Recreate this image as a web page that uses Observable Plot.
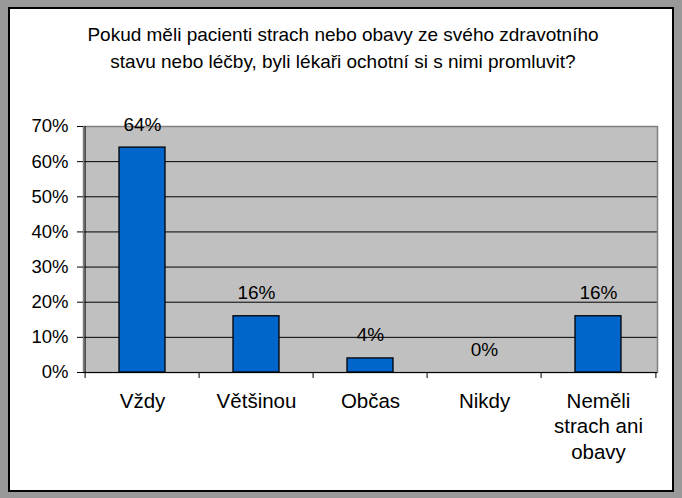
<!DOCTYPE html>
<html><head><meta charset="utf-8">
<script src="https://cdn.jsdelivr.net/npm/d3@7"></script>
<script src="https://cdn.jsdelivr.net/npm/@observablehq/plot@0.6"></script>
<style>
body{margin:0;background:#fff;}
#wrap{position:relative;width:682px;height:498px;background:#999;overflow:hidden;font-family:"Liberation Sans",Arial,sans-serif;}
#box{position:absolute;left:8px;top:7px;width:662px;height:481px;border:2px solid #000;background:#fff;}
#title{position:absolute;left:10px;width:666px;top:21px;text-align:center;font-size:19px;line-height:27px;color:#000;white-space:nowrap;}
#chart{position:absolute;left:0;top:0;}
</style></head><body>
<div id="wrap"><div id="box"></div><div id="title">Pokud měli pacienti strach nebo obavy ze svého zdravotního<br>stavu nebo léčby, byli lékaři ochotní si s nimi promluvit?</div><div id="chart"></div></div>
<script>
const categories = ["Vždy", "Většinou", "Občas", "Nikdy", "Neměli strach ani obavy"];
const categoryLabels = ["Vždy", "Většinou", "Občas", "Nikdy", "Neměli\nstrach ani\nobavy"];
const values = [0.64, 0.16, 0.04, 0.00, 0.16];
const valueLabels = ["64%", "16%", "4%", "0%", "16%"];
const yTicks = [0, 0.1, 0.2, 0.3, 0.4, 0.5, 0.6, 0.7];
const gridValues = [0.1, 0.2, 0.3, 0.4, 0.5, 0.6];

const W = 682, H = 498, mL = 83, mR = 25, mT = 126, mB = 126;
const step = (W - mL - mR) / categories.length;
const data = categories.map((c, i) => ({cat: c, value: values[i], label: valueLabels[i], axisLabel: categoryLabels[i]}));

const chart = Plot.plot({
  width: W, height: H,
  marginLeft: mL, marginRight: mR, marginTop: mT, marginBottom: mB,
  style: {background: "transparent", fontFamily: "'Liberation Sans', Arial, sans-serif", color: "#000", fontSize: "18px"},
  x: {domain: categories, paddingInner: 0.6, paddingOuter: 0.3, axis: null},
  y: {domain: [0, 0.7]},
  marks: [
    Plot.frame({fill: "#c0c0c0", stroke: "none"}),
    Plot.ruleY(gridValues, {stroke: "#000", strokeWidth: 1}),
    Plot.frame({stroke: "#808080", strokeWidth: 1.5}),
    Plot.ruleY([0], {stroke: "#000", strokeWidth: 1}),
    Plot.ruleX([categories[0]], {dx: -step / 2, stroke: "#000", strokeWidth: 1}),
    Plot.barY(data, {x: "cat", y: "value", fill: "#0066cc", stroke: "#000", strokeWidth: 1.3}),
    Plot.ruleX(categories, {dx: -step / 2, insetTop: H - mT - mB, insetBottom: -6, stroke: "#000"}),
    Plot.ruleX([categories[categories.length - 1]], {dx: step / 2, insetTop: H - mT - mB, insetBottom: -6, stroke: "#000"}),
    Plot.axisY({ticks: yTicks, tickFormat: d3.format(".0%"), tickSize: 6, tickPadding: 9, fontSize: 18.5, label: null, stroke: "#000"}),
    Plot.text(data, {x: "cat", y: "value", text: "label", dy: -17, lineAnchor: "bottom", fontSize: 19, fill: "#000"}),
    Plot.text(data, {x: "cat", text: "axisLabel", frameAnchor: "bottom", lineAnchor: "top", dy: 17, fontSize: 20.5, lineHeight: 1.25, fill: "#000"})
  ]
});
document.getElementById("chart").appendChild(chart);
</script>
</body></html>
